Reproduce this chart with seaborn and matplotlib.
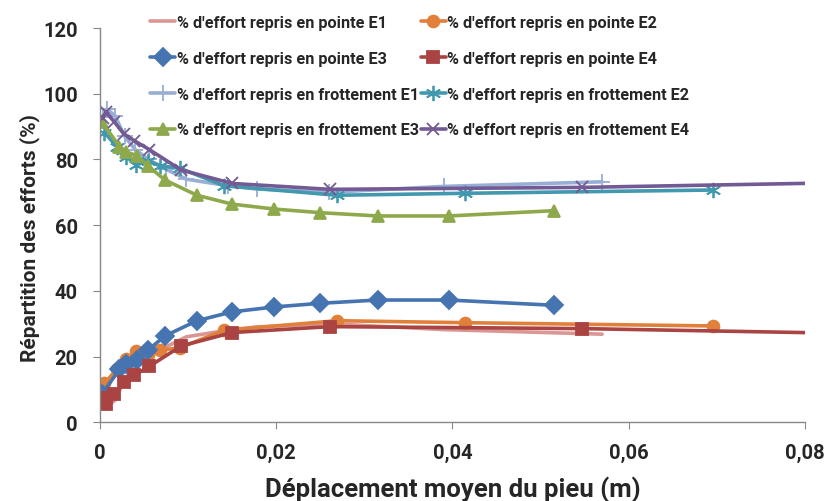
import matplotlib
matplotlib.use('Agg')
import matplotlib.pyplot as plt
import seaborn as sns

# deplacement (m) et % d'effort repris en pointe / en frottement
x_e1 = [0.0003, 0.0008, 0.0017, 0.0028, 0.004, 0.0055, 0.0075, 0.0098, 0.0145, 0.0178, 0.026, 0.039, 0.057]
p_e1 = [7.0, 4.7, 6.7, 13.0, 17.0, 20.0, 23.0, 26.0, 28.0, 29.0, 30.0, 28.2, 26.8]
f_e1 = [93.0, 95.3, 93.3, 87.0, 83.0, 80.0, 77.0, 74.0, 72.0, 71.0, 70.0, 71.8, 73.2]

x_e2 = [0.0005, 0.0019, 0.003, 0.0041, 0.0054, 0.0068, 0.0091, 0.0141, 0.0269, 0.0414, 0.0696]
p_e2 = [11.8, 16.1, 19.2, 21.7, 20.4, 21.9, 22.7, 28.0, 30.9, 30.3, 29.3]
f_e2 = [88.2, 83.9, 80.8, 78.3, 79.6, 78.1, 77.3, 72.0, 69.1, 69.7, 70.7]

x_e3 = [0.0002, 0.0022, 0.003, 0.0042, 0.0054, 0.0074, 0.011, 0.015, 0.0198, 0.025, 0.0315, 0.0396, 0.0515]
p_e3 = [8.5, 16.1, 17.7, 18.9, 21.9, 26.3, 30.9, 33.6, 35.1, 36.2, 37.2, 37.2, 35.6]
f_e3 = [91.5, 83.9, 82.3, 81.1, 78.1, 73.7, 69.1, 66.4, 64.9, 63.8, 62.8, 62.8, 64.4]

x_e4 = [0.0003, 0.0007, 0.0016, 0.0027, 0.0039, 0.0056, 0.0092, 0.015, 0.0261, 0.0547, 0.09]
p_e4 = [7.5, 5.5, 8.5, 12.2, 14.3, 17.0, 23.2, 27.3, 29.1, 28.5, 26.8]
f_e4 = [92.5, 94.5, 91.5, 87.8, 85.7, 83.0, 76.8, 72.7, 70.9, 71.5, 73.2]

sns.set_style('white')
plt.rcParams['font.family'] = ['Roboto', 'DejaVu Sans']
plt.rcParams['font.weight'] = 'bold'

fig, ax = plt.subplots(figsize=(8.27, 5.02), dpi=100)
fig.subplots_adjust(left=0.121, right=0.973, bottom=0.157, top=0.942)

series = [
    (x_e1, p_e1, "% d'effort repris en pointe E1", '#D99694', None, 0),
    (x_e2, p_e2, "% d'effort repris en pointe E2", '#E0803A', 'o', 8.5),
    (x_e3, p_e3, "% d'effort repris en pointe E3", '#4674B0', 'D', 9),
    (x_e4, p_e4, "% d'effort repris en pointe E4", '#A94442', 's', 8.5),
    (x_e1, f_e1, "% d'effort repris en frottement E1", '#98AED4', '+', 11),
    (x_e2, f_e2, "% d'effort repris en frottement E2", '#4198AF', (6, 2, 0), 11),
    (x_e3, f_e3, "% d'effort repris en frottement E3", '#8EA94B', '^', 9),
    (x_e4, f_e4, "% d'effort repris en frottement E4", '#735A94', 'x', 9),
]

for xs, ys, lab, col, mk, ms in series:
    sns.lineplot(x=xs, y=ys, ax=ax, label=lab, color=col, marker=mk, markersize=ms,
                 markeredgecolor=col, markeredgewidth=1.3, linewidth=2.6,
                 sort=False, estimator=None)

ax.set_xlim(0, 0.08)
ax.set_ylim(0, 120)
ax.set_xticks([0, 0.02, 0.04, 0.06, 0.08])
ax.set_xticklabels(['0', '0,02', '0,04', '0,06', '0,08'])
ax.set_yticks(range(0, 121, 20))
ax.tick_params(axis='both', labelsize=14.5, length=5, direction='out', color='#888888',
               bottom=True, left=True)
ax.tick_params(axis='x', pad=10)
ax.tick_params(axis='y', pad=11)
for lbl in ax.get_xticklabels() + ax.get_yticklabels():
    lbl.set_fontweight('bold')

for s in ['top', 'right']:
    ax.spines[s].set_visible(False)
for s in ['left', 'bottom']:
    ax.spines[s].set_color('#888888')
    ax.spines[s].set_linewidth(1.0)

ax.set_xlabel('Déplacement moyen du pieu (m)', fontsize=18.5, fontweight='bold')
ax.set_ylabel('Répartition des efforts (%)', fontsize=15, fontweight='bold')
ax.xaxis.set_label_coords(0.5, -0.135)
ax.yaxis.set_label_coords(-0.085, 0.47)

# legende remplie ligne par ligne comme dans Excel
handles, labels = ax.get_legend_handles_labels()
order = [0, 2, 4, 6, 1, 3, 5, 7]
leg = ax.legend([handles[i] for i in order], [labels[i] for i in order],
                ncol=2, loc='upper left', bbox_to_anchor=(150 / 827, 1 - 16 / 502),
                bbox_transform=fig.transFigure, frameon=False, borderpad=0, borderaxespad=0,
                handlelength=1.55, handletextpad=0.1, columnspacing=0.1,
                labelspacing=1.28, prop={'weight': 'bold', 'size': 11.7})

fig.savefig('out.png', dpi=100)
